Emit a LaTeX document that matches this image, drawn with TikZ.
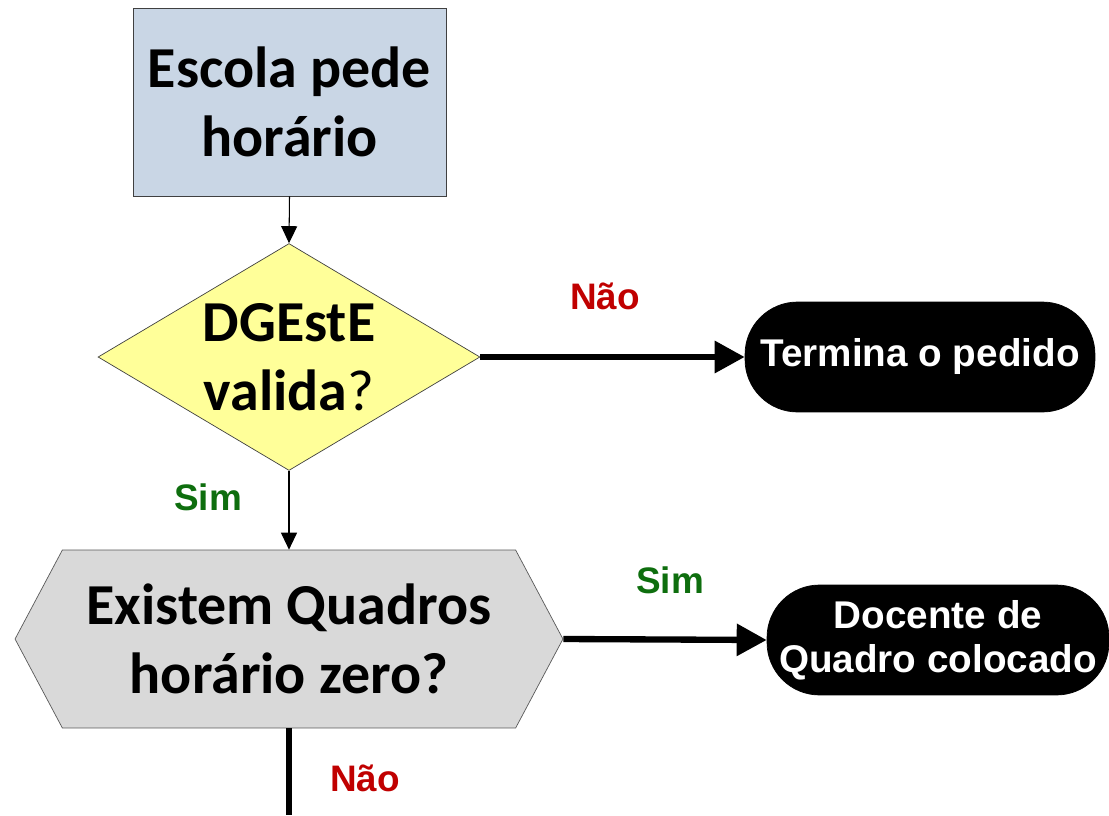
\documentclass[tikz,border=0pt]{standalone}
\usepackage{fontspec}
\setmainfont{Carlito}
\newfontfamily\arialfont{Liberation Sans}
\usetikzlibrary{shapes.geometric,shapes.symbols,arrows.meta}

\definecolor{boxblue}{HTML}{C9D6E5}
\definecolor{boxyellow}{HTML}{FFFF99}
\definecolor{boxgrey}{HTML}{D9D9D9}
\definecolor{simgreen}{HTML}{0E6E0E}
\definecolor{naored}{HTML}{C00000}

\begin{document}
\begin{tikzpicture}[x=0.02cm,y=-0.02cm,
    bigtext/.style={font=\fontsize{33}{39}\selectfont\bfseries, align=center},
    endtext/.style={font=\arialfont\fontsize{22}{25}\selectfont\bfseries, text=white, align=center},
    endbox/.style={endtext, fill=black, draw=black, rounded corners=1.05cm, minimum height=2.2cm},
    answer/.style={font=\arialfont\fontsize{21}{24}\selectfont\bfseries},
    thin arrow/.style={line width=0.6pt, -{Triangle[length=0.34cm,width=0.32cm]}},
    thick arrow/.style={line width=3.6pt, -{Triangle[length=0.6cm,width=0.62cm]}}]
  \useasboundingbox (0,0) rectangle (1109,815);
  % process, decision and preparation boxes
  \node[bigtext, draw=black!75, fill=boxblue, minimum width=6.26cm, minimum height=3.76cm] (escola) at (289.5,102) {Escola pede\\hor\'ario};
  \node[bigtext, diamond, aspect=1.68, draw=black!75, fill=boxyellow, minimum width=7.64cm, minimum height=4.54cm, inner sep=0pt] (dgeste) at (289,357) {DGEstE\\valida{\mdseries ?}};
  \node[bigtext, signal, signal to=west and east, signal pointer angle=124, draw=black!65, fill=boxgrey, minimum width=10.96cm, minimum height=3.56cm, inner sep=0pt] (quadros) at (289,639) {Existem Quadros\\hor\'ario zero?};
  % terminators
  \node[endbox, minimum width=7cm] (termina) at (920,357) {Termina o pedido};
  \node[endbox, minimum width=6.84cm] (docente) at (938,640) {Docente de\\Quadro colocado};
  \coordinate (fim) at (289,815);
  % connectors
  \draw[thin arrow] (escola.south) -- (dgeste.north);
  \draw[thin arrow] (dgeste.south) -- (quadros.north);
  \draw[thick arrow] (dgeste.east) -- (termina.west);
  \draw[thick arrow] (quadros.east) -- (docente.west);
  \draw[line width=3.6pt] (quadros.south) -- (fim);
  % answers
  \node[answer, text=naored] (nao1) at (605,296) {Não};
  \node[answer, text=simgreen] (sim1) at (208,497) {Sim};
  \node[answer, text=simgreen] (sim2) at (670,580) {Sim};
  \node[answer, text=naored] (nao2) at (365,778) {Não};
\end{tikzpicture}
\end{document}
